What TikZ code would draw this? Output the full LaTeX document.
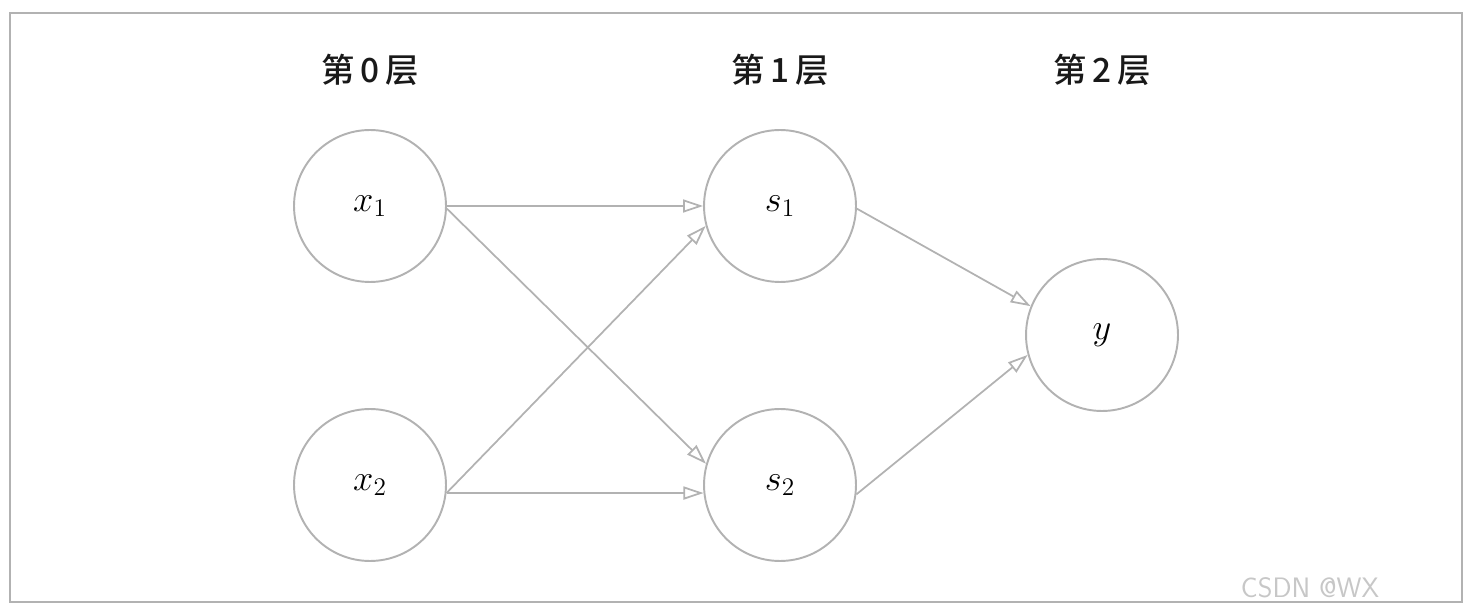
\documentclass[tikz,border=0pt]{standalone}
\usepackage{fontspec}
\newfontfamily\cjk{Noto Sans CJK SC Medium}
\usetikzlibrary{arrows.meta}
\begin{document}
\begin{tikzpicture}[x=0.02cm,y=-0.02cm,
  neuron/.style={circle,draw=black!30,line width=1.1pt,minimum size=3.04cm,inner sep=0pt,font=\fontsize{20}{24}\selectfont},
  layer/.style={font=\cjk\fontsize{19}{22}\selectfont,text=black!90},
  conn/.style={draw=black!30,line width=1pt,-{Triangle[open,length=0.4cm,width=0.26cm]}}]
\useasboundingbox (0,0) rectangle (1470,614);
\draw[black!30,line width=1pt] (10,13) rectangle (1462,602);
\node[layer] (l0) at (370,70) {第\,0\,层};
\node[layer] (l1) at (780,70) {第\,1\,层};
\node[layer] (l2) at (1102,70) {第\,2\,层};
\node[neuron] (x1) at (370,206) {\raisebox{-3pt}{$x_1$}};
\node[neuron] (x2) at (370,485) {\raisebox{-3pt}{$x_2$}};
\node[neuron] (s1) at (780,206) {\raisebox{-3pt}{$s_1$}};
\node[neuron] (s2) at (780,485) {\raisebox{-3pt}{$s_2$}};
\node[neuron] (y) at (1102,335) {\raisebox{-3pt}{$y$}};
\draw[conn] (x1.0) -- (s1.180);
\draw[conn] (x1.-2) -- (s2.164);
\draw[conn] (x2.-6) -- (s1.195);
\draw[conn] (x2.-6) -- (s2.186);
\draw[conn] (s1.-2) -- (y.158);
\draw[conn] (s2.-7) -- (y.195);
\node[font=\fontsize{16}{18}\selectfont\sffamily,text=black!22] (wm) at (1310,588) {CSDN @WX};
\end{tikzpicture}
\end{document}
